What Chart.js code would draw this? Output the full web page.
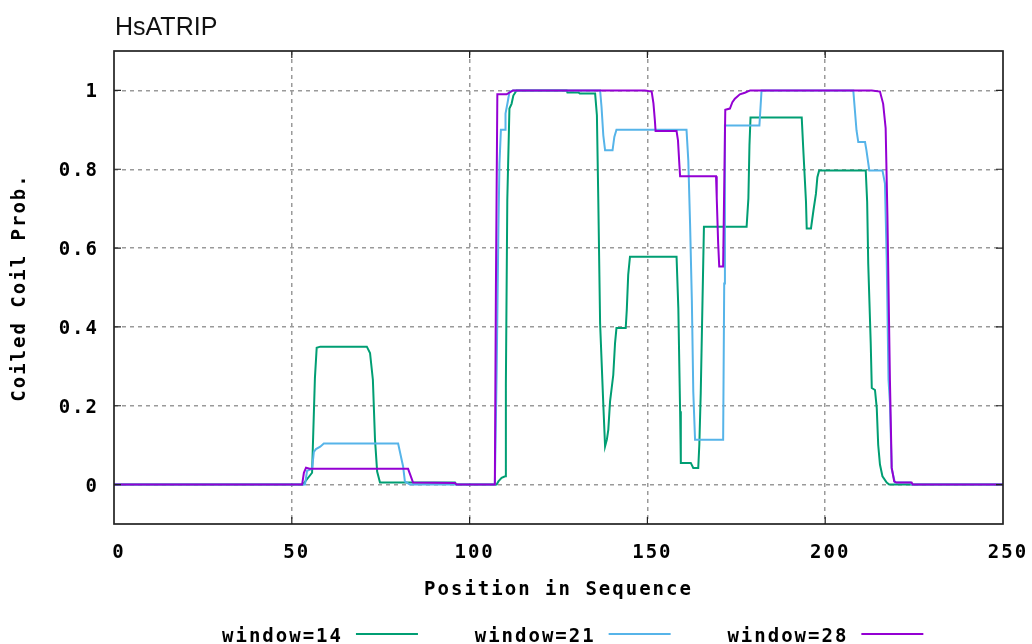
<!DOCTYPE html>
<html>
<head>
<meta charset="utf-8">
<title>HsATRIP</title>
<script src="https://cdn.jsdelivr.net/npm/chart.js@4.4.1/dist/chart.umd.min.js"></script>
<style>
  html, body { margin: 0; padding: 0; background: #fff; }
  #wrap { width: 1032px; height: 644px; position: relative; }
</style>
</head>
<body>
<div id="wrap"><canvas id="coil-canvas"></canvas></div>
<script>
// chart text
const chartTitle = "HsATRIP";
const xTitle = "Position in Sequence";
const yTitle = "Coiled Coil Prob.";
const xTicks = [0, 50, 100, 150, 200, 250];
const yTicks = [0, 0.2, 0.4, 0.6, 0.8, 1];

// window=14 (vertices of the trace)
const w14Pos = [0, 53.1, 55.7, 56.0, 56.5, 57, 58, 71.1, 72.0, 72.8, 73.4, 74.0, 74.8, 95.9, 96.3, 107.6, 108.1, 109.0, 110.0, 110.2, 110.6, 111.2, 111.8, 112.3, 113.2, 127.3, 127.5, 130.6, 131, 135.3, 135.8, 136.2, 136.7, 137.6, 138.1, 138.6, 139.0, 139.5, 140.4, 140.9, 141.3, 143.9, 144.2, 144.6, 145.1, 158.2, 158.7, 159.2, 159.4, 162.2, 162.9, 164.3, 164.6, 165.0, 165.5, 165.9, 177.9, 178.4, 178.7, 179.0, 193.4, 193.8, 194.6, 194.8, 196.0, 196.7, 197.4, 197.8, 198.3, 211.4, 211.8, 212.1, 212.8, 213.1, 214.0, 214.5, 214.9, 215.4, 216.1, 217.3, 218, 250];
const w14Val = [0, 0, 0.03, 0.12, 0.27, 0.347, 0.35, 0.35, 0.334, 0.266, 0.114, 0.033, 0.005, 0.005, 0, 0, 0.008, 0.017, 0.021, 0.257, 0.722, 0.954, 0.966, 0.987, 1.0, 1.0, 0.995, 0.995, 0.992, 0.992, 0.937, 0.717, 0.409, 0.203, 0.097, 0.114, 0.139, 0.211, 0.278, 0.359, 0.397, 0.397, 0.443, 0.532, 0.578, 0.578, 0.447, 0.186, 0.055, 0.055, 0.042, 0.042, 0.101, 0.232, 0.468, 0.654, 0.654, 0.726, 0.861, 0.931, 0.931, 0.857, 0.717, 0.65, 0.65, 0.696, 0.738, 0.78, 0.797, 0.797, 0.717, 0.561, 0.359, 0.245, 0.24, 0.194, 0.101, 0.051, 0.021, 0.005, 0, 0];

// window=21
const w21Pos = [0, 53.7, 54.3, 55.7, 56.2, 56.8, 58, 59, 79.9, 81.3, 81.8, 83.2, 107.1, 107.6, 108.1, 108.4, 108.8, 110, 110.1, 110.7, 111.2, 112.2, 136.7, 137.1, 137.6, 138.1, 140.2, 140.7, 141.3, 161, 161.5, 162, 162.5, 162.9, 163.4, 171.3, 171.6, 171.8, 181.5, 182.1, 207.9, 208.8, 209.3, 211.2, 211.6, 212.4, 216.1, 216.8, 217.3, 217.8, 218.2, 218.7, 219.6, 224, 224.3, 250];
const w21Val = [0, 0, 0.035, 0.04, 0.083, 0.09, 0.096, 0.104, 0.104, 0.046, 0.008, 0, 0, 0.283, 0.646, 0.814, 0.9, 0.9, 0.941, 0.97, 0.996, 1.0, 1.0, 0.958, 0.886, 0.848, 0.848, 0.882, 0.9, 0.9, 0.823, 0.662, 0.468, 0.236, 0.114, 0.114, 0.51, 0.911, 0.911, 1.0, 1.0, 0.899, 0.869, 0.869, 0.848, 0.797, 0.797, 0.764, 0.57, 0.266, 0.208, 0.04, 0.005, 0.005, 0, 0];

// window=28
const w28Pos = [0, 52.9, 53.4, 54, 55, 82.7, 83.5, 84.1, 95.9, 96.3, 107.1, 107.4, 107.8, 110.4, 112.2, 149.3, 151.2, 151.7, 152.1, 152.3, 158.2, 158.6, 159, 159.2, 169.3, 169.5, 169.9, 170.2, 171.3, 171.6, 171.9, 173.2, 173.9, 174.6, 176, 177.4, 178.9, 213.1, 215.4, 216.3, 217, 217.5, 218.2, 218.7, 219.4, 220, 224.3, 224.6, 250];
const w28Val = [0, 0, 0.03, 0.043, 0.04, 0.04, 0.02, 0.005, 0.004, 0, 0, 0.5, 0.99, 0.99, 1.0, 1.0, 0.997, 0.967, 0.924, 0.897, 0.897, 0.873, 0.81, 0.782, 0.782, 0.727, 0.612, 0.553, 0.553, 0.755, 0.951, 0.954, 0.97, 0.979, 0.99, 0.994, 1.0, 1.0, 0.997, 0.966, 0.904, 0.68, 0.266, 0.043, 0.008, 0.005, 0.005, 0, 0];

const seriesLabels = ["window=14", "window=21", "window=28"];


function to_points (pos, val) {
    return pos.map((x, i) => ({x: x, y: val[i]}));
}

const monoFont = '"DejaVu Sans Mono", "Liberation Mono", monospace';
const SPACING = '2px';

Chart.defaults.font.family = monoFont;
Chart.defaults.font.size = 19;
Chart.defaults.font.weight = 'bold';
Chart.defaults.color = '#000';

// frame, inner ticks, title and the gnuplot-like legend
const frame_plugin = {
    id: 'gnuFrame',
    beforeLayout (chart) { chart.ctx.letterSpacing = SPACING; },
    beforeDraw (chart) { chart.ctx.letterSpacing = SPACING; },
    afterDraw (chart) {
        const ctx = chart.ctx;
        const a = chart.chartArea;
        const xs = chart.scales.x, ys = chart.scales.y;
        ctx.save();
        ctx.setLineDash([]);
        ctx.strokeStyle = '#222';
        ctx.lineWidth = 1.2;
        ctx.beginPath();
        xTicks.forEach(v => {
            if (v <= xs.min || v >= xs.max) return;
            const p = xs.getPixelForValue(v);
            ctx.moveTo(p, a.bottom); ctx.lineTo(p, a.bottom - 7);
            ctx.moveTo(p, a.top); ctx.lineTo(p, a.top + 7);
        });
        yTicks.forEach(v => {
            const p = ys.getPixelForValue(v);
            ctx.moveTo(a.left, p); ctx.lineTo(a.left + 7, p);
            ctx.moveTo(a.right, p); ctx.lineTo(a.right - 7, p);
        });
        ctx.stroke();

        ctx.lineWidth = 1.7;
        ctx.strokeRect(a.left, a.top, a.right - a.left, a.bottom - a.top);

        // title
        ctx.letterSpacing = '0px';
        ctx.font = '25px "Liberation Sans", Arial, sans-serif';
        ctx.fillStyle = '#111';
        ctx.textAlign = 'left';
        ctx.textBaseline = 'alphabetic';
        ctx.fillText(chartTitle, a.left + 1, 35);

        // legend
        ctx.letterSpacing = SPACING;
        ctx.font = 'bold 19px ' + monoFont;
        chart.data.datasets.forEach((ds, i) => {
            const tx = 222 + i * 252.7;
            ctx.fillStyle = '#000';
            ctx.fillText(ds.label, tx, 642);
            const w = ctx.measureText(ds.label).width;
            ctx.strokeStyle = ds.borderColor;
            ctx.lineWidth = ds.borderWidth;
            ctx.beginPath();
            ctx.moveTo(tx + w + 13, 634);
            ctx.lineTo(tx + w + 75, 634);
            ctx.stroke();
        });
        ctx.restore();
    }
};

const gridColor = (ctx) => {
    const s = ctx.scale;
    if (ctx.tick && (ctx.tick.value <= s.min || ctx.tick.value >= s.max)) return 'rgba(0,0,0,0)';
    return '#9a9a9a';
};

coilChart = new Chart(
    document.getElementById('coil-canvas'),
    {
        type: 'line',
        data: {
            datasets: [{
                label: seriesLabels[0],
                borderColor: '#009e73',
                backgroundColor: '#009e73',
                borderWidth: 2,
                order: 3,
                data: to_points(w14Pos, w14Val)
            },
            {
                label: seriesLabels[1],
                borderColor: '#56b4e9',
                backgroundColor: '#56b4e9',
                borderWidth: 2,
                order: 2,
                data: to_points(w21Pos, w21Val)
            },
            {
                label: seriesLabels[2],
                borderColor: '#9400d3',
                backgroundColor: '#9400d3',
                borderWidth: 2,
                order: 1,
                data: to_points(w28Pos, w28Val)
            }]
        },
        options: {
            responsive: true,
            maintainAspectRatio: false,
            animation: false,
            elements: {
                point: { radius: 0 },
                line: { tension: 0, fill: false }
            },
            layout: { padding: { top: 51, right: 29, bottom: 42, left: 0 } },
            plugins: {
                legend: { display: false },
                title: { display: false },
                tooltip: { enabled: false }
            },
            scales: {
                x: {
                    type: 'linear',
                    min: 0,
                    max: 250,
                    afterBuildTicks: (scale) => { scale.ticks = xTicks.map(v => ({value: v})); },
                    afterFit: (scale) => { scale.height = 78; scale.paddingLeft = 0; scale.paddingRight = 0; },
                    ticks: { padding: 18, labelOffset: 5, maxRotation: 0, autoSkip: false,
                             callback: (v) => String(v) },
                    grid: { color: gridColor, lineWidth: 1.5, drawTicks: false },
                    border: { display: false, dash: [4, 4] },
                    title: { display: true, text: xTitle, padding: { top: 0, bottom: 1 } }
                },
                y: {
                    min: -0.1,
                    max: 1.1,
                    afterBuildTicks: (scale) => { scale.ticks = yTicks.map(v => ({value: v})); },
                    afterFit: (scale) => { scale.width = 114; scale.paddingTop = 0; scale.paddingBottom = 0; },
                    ticks: { padding: 15, labelOffset: 2, autoSkip: false,
                             callback: (v) => (v === 0 || v === 1) ? String(v) : v.toFixed(1) },
                    grid: { color: gridColor, lineWidth: 1.5, drawTicks: false },
                    border: { display: false, dash: [4, 4] },
                    title: { display: true, text: yTitle, padding: { top: 9, bottom: 0 } }
                }
            }
        },
        plugins: [frame_plugin]
    }
);
</script>
</body>
</html>
